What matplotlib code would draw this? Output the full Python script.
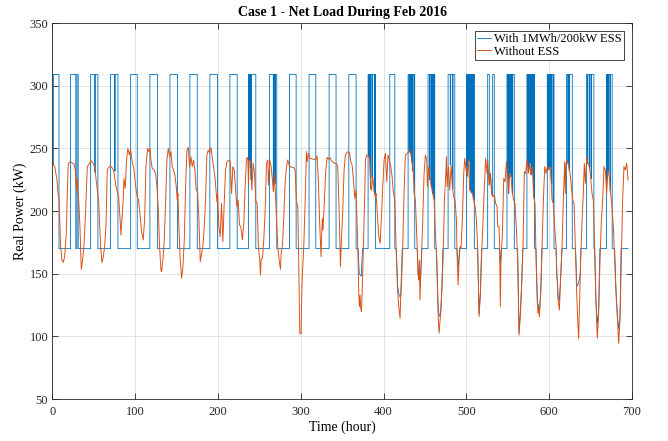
import matplotlib
matplotlib.use("Agg")
import matplotlib.pyplot as plt
import numpy as np

plt.rcParams['font.family'] = ['Liberation Serif', 'DejaVu Serif']

# Net load without storage (hour, kW)
load_hours = [
    0, 2.7, 5.6, 6.8, 8, 10, 11.6, 13.2, 14.8, 16.8, 18, 19.2, 21.2, 23.7, 26.1, 27.7, 28.5, 29.3, 30.1, 30.9,
    31.7, 33.3, 34.9, 36.5, 38.1, 40.2, 42.2, 44.6, 47, 49.4, 51, 51.8, 54.2, 55.8, 58.3, 59.9, 61.5, 63.1, 64.7, 66.3,
    67.9, 70.3, 72.7, 74.3, 76.8, 78.4, 80, 81.6, 82.8, 84, 85.6, 86.4, 88, 89.6, 91.2, 92.9, 94.5, 96.1, 98.5, 100.9,
    102.5, 104.1, 106.5, 108.1, 109.7, 111.4, 113, 115, 116.6, 117.8, 119, 120.6, 123, 124.7, 126.3, 127.9, 129.5, 131.1, 131.9, 133.5,
    135.1, 136.7, 138.3, 140, 141.6, 143.2, 144.8, 146.4, 148, 149.6, 150.8, 151.6, 152.8, 154.4, 156.1, 157.7, 159.3, 160.9, 162.5, 164.1,
    165.7, 167.3, 168.9, 170.5, 172.1, 173.7, 175.4, 177, 178.6, 180.2, 181.8, 183.4, 185, 186.6, 188.2, 189.8, 191.4, 193, 194.7, 196.3,
    197.9, 198.7, 199.5, 201.1, 202.7, 204.3, 205.9, 207.5, 209.1, 210.8, 213.2, 214.8, 216.4, 218, 219.6, 221.2, 222.8, 224.4, 226, 227.6,
    229.5, 231.2, 232.8, 234.4, 236, 236.8, 237.6, 239.3, 240.9, 242.5, 244.1, 245.7, 247.3, 248.9, 250.5, 251.3, 252.1, 253.7, 255.3, 257,
    258.6, 260.2, 261, 262.6, 264.2, 265.8, 267, 268.2, 269, 270.6, 272.2, 273.9, 275.5, 276.3, 277.9, 279.5, 281.1, 282.7, 284.3, 285.9,
    287.5, 289.2, 291.5, 293.2, 294.8, 296.4, 297.2, 298, 298.8, 300.4, 301.2, 302, 303.6, 305.2, 306.8, 307.6, 309.2, 310.9, 313.3, 315.7,
    318.1, 319.7, 321.3, 322.9, 323.7, 324.5, 325.3, 326.1, 326.9, 328.6, 330.2, 331.8, 333.4, 335, 336.6, 338.2, 341.4, 343, 344.6, 346.3,
    347.9, 349.1, 350.7, 352.3, 353.9, 356.4, 358.8, 360.4, 362, 363.6, 365.2, 366.8, 368.4, 369.2, 370, 370.8, 371.6, 372.4, 373.3, 374.1,
    375.7, 377.3, 378.1, 379.7, 381.3, 382.9, 384.5, 385.3, 386.9, 388.5, 390.1, 390.9, 392.6, 394.2, 395.8, 397.4, 399, 400.6, 402.2, 403.8,
    405.4, 407, 408.7, 410.3, 411.9, 413.5, 415.1, 416.7, 418.3, 419.9, 420.7, 421.5, 423.1, 424.7, 426.3, 428.8, 431.2, 432.8, 434.4, 436,
    437.6, 438.4, 440, 441.6, 442.4, 443.2, 444, 444.9, 445.7, 447.3, 448.9, 450.5, 452.1, 452.9, 454.5, 456.1, 457.7, 459.3, 461, 462.6,
    464.2, 465.8, 467, 468.6, 470.2, 471.8, 473.5, 475.1, 475.9, 476.7, 478.3, 479.9, 481.5, 483.1, 484.7, 486.3, 488, 488.7, 490, 491.2,
    492.4, 493.6, 495.2, 496.8, 498, 499.2, 500.8, 502.4, 504, 505.6, 507.2, 508.9, 510.5, 512.1, 513.7, 515.3, 516.9, 518.5, 520.1, 521.7,
    523.3, 524.9, 525.8, 527.4, 529, 530.6, 532.2, 533.8, 535.4, 537, 537.8, 539.4, 540.2, 541, 541.8, 543.5, 545.1, 546.7, 548.3, 549.9,
    550.7, 552.3, 553.9, 555.5, 557.1, 558.7, 560.3, 561.9, 563.6, 565.2, 566.8, 568.4, 570, 571.6, 573.2, 574.8, 576.4, 578, 579.7, 581.3,
    582.9, 584.1, 585.7, 586.5, 587.3, 588.1, 589.8, 591.4, 593, 594.6, 596.2, 597.8, 599.4, 601, 602.6, 603.4, 605, 606.6, 608.3, 609.1,
    609.9, 610.7, 612.3, 613.9, 615.5, 617.1, 618.7, 619.5, 620.3, 621.9, 623.5, 625.2, 626.8, 628.4, 630, 631.6, 633.2, 634.8, 635.6, 636.4,
    638, 639.7, 641.2, 642.4, 643.7, 645.3, 646.9, 648.5, 650.1, 651.7, 653.3, 654.9, 656.5, 658.1, 659.7, 661.4, 663, 664.6, 666.2, 667.8,
    669.4, 671, 672.6, 674.2, 675.8, 677.5, 679.1, 680.7, 682.3, 683.9, 685.5, 687.1, 688.7, 690.3, 691.9, 693.6, 695.2,
]
load_kw = [
    237.5, 236, 224.7, 214, 210, 171.6, 161, 159, 163.6, 182, 214, 238, 239.3, 238.5, 237.5, 232.7, 224.7, 216.7, 226, 214,
    210, 187.5, 153.5, 161, 171.6, 200.8, 235.4, 238, 240, 238, 235.4, 231.4, 216.7, 208.8, 171.6, 158.8, 163.6, 171.6, 188, 232.7,
    234.8, 236, 234, 231.4, 219.4, 215.4, 211.4, 195.5, 180.9, 192.8, 210, 226, 218, 240.7, 250, 244.7, 249, 240.7, 232.7, 218,
    211.4, 208.8, 192.8, 182, 176.9, 192.8, 235.4, 250, 247.3, 250, 240.7, 234, 232.7, 230, 219.4, 200.8, 171.6, 153, 151.6, 161,
    176.9, 206, 240.7, 250, 243.3, 247.3, 235.4, 232.7, 228.7, 219.4, 208.8, 214, 187.5, 161, 146.3, 155.6, 176.9, 219.4, 248.6, 250.8,
    235.4, 243.3, 235.4, 240.7, 232.7, 216.7, 215.4, 192.8, 159.6, 166.2, 171.6, 187.5, 208.8, 244.7, 248.6, 246.5, 250.8, 243.3, 235.4, 227.4,
    214, 207.4, 214, 187.5, 179.5, 206, 175.5, 206, 232.7, 239.3, 240.7, 239.3, 214, 235.4, 232.7, 218, 203.5, 208.8, 188.8, 187.5,
    177, 190, 219.4, 242, 242.8, 222, 240.7, 240.7, 216.7, 238, 230, 207.4, 206, 170.2, 161, 149, 161.5, 162.3, 176.9, 200.8,
    238, 240.7, 220.7, 240.7, 235.4, 224.7, 215.4, 228.7, 219.4, 195.5, 171.6, 161, 153.5, 166.2, 172.9, 195.5, 222, 235.4, 240.7, 236.7,
    235.4, 234.8, 234.8, 232.7, 207.4, 203.5, 171.6, 134.3, 102.4, 102, 134.3, 150.3, 171.6, 206, 247.3, 239.3, 246, 242, 241.7, 241.2,
    241.2, 243.9, 223.4, 188.8, 176.9, 163.6, 182, 194.2, 184.8, 208.8, 232.7, 242.8, 241.2, 242.8, 240.7, 239.3, 238, 238, 235.4, 200.8,
    155.6, 176.9, 200.8, 232.7, 244.7, 247.3, 246.5, 239.3, 236.7, 224.7, 210, 216.7, 182, 161, 134.3, 123.7, 133, 122.4, 119.7, 134.3,
    174.2, 214, 240.7, 244.7, 243.9, 243.3, 218, 216.7, 227.4, 215.4, 211.4, 214, 195.5, 179.5, 174.2, 195.5, 219.4, 240.7, 246, 223.4,
    244.7, 240.7, 235.4, 227.4, 214, 208.8, 171.6, 139.7, 123.7, 114.4, 131.7, 139.7, 171.6, 214, 244.7, 246, 248.6, 246, 238, 230,
    211.4, 208.8, 182, 150.3, 145, 161, 129, 150.3, 161, 192.8, 230, 244.7, 240.7, 219.4, 235.4, 224.7, 219.4, 214, 208.8, 182,
    161, 118.4, 102.4, 115.7, 134.3, 161, 208.8, 228.7, 243.3, 219.4, 235.4, 216.7, 236.7, 219.4, 211.4, 208.8, 192.8, 166.2, 141, 161,
    171.6, 170.2, 195.5, 230, 242, 235.4, 227.4, 240.7, 216.7, 215.4, 214, 208.8, 203.5, 192.8, 168.9, 115.7, 134.3, 166.2, 192.8, 219.4,
    242, 230, 240.7, 220.7, 230, 214, 211.4, 212.8, 206, 203.5, 187.5, 187.5, 171.6, 123.7, 161, 182, 226, 223.4, 239.3, 227.4,
    214, 230, 227.4, 214, 208.8, 206, 187.5, 161, 101.1, 118.4, 142.3, 171.6, 231.4, 230, 240.7, 230, 238, 228.7, 235.4, 211.4,
    206, 161, 126.4, 118.4, 123.7, 115.7, 134.3, 171.6, 208.8, 235.4, 230, 235.4, 232.7, 235.4, 222, 208.8, 206, 187.5, 171.6, 147.6,
    145, 129, 121, 147.6, 171.6, 208.8, 239.3, 214, 238, 240.7, 235.4, 230, 219.4, 208.8, 206, 171.6, 134.3, 107.8, 98.5, 118.4,
    161, 192.8, 214, 238, 222, 243.3, 238, 235.4, 227.4, 214, 208.8, 171.6, 126.4, 98.5, 118.4, 161, 192.8, 208.8, 235.4, 232.7,
    214, 232.7, 227.4, 214, 203.5, 187.5, 161, 134.3, 115.7, 94.5, 113, 161, 208.8, 235.4, 232.7, 238, 224.7,
]

# Net load with the 1 MWh / 200 kW storage unit (hour, kW)
ess_hours = [
    0, 1.2, 1.2, 8, 8, 22, 22, 28.3, 28.3, 29.7, 29.7, 31.2, 31.2,
    46.2, 46.2, 51, 51, 52, 52, 55, 55, 70.3, 70.3, 75, 75, 76, 76, 79.2, 79.2,
    94.5, 94.5, 102.5, 102.5, 117.8, 117.8, 127.1, 127.1, 142, 142, 151.2, 151.2,
    166.1, 166.1, 175, 175, 190.2, 190.2, 199.5, 199.5, 214.4, 214.4, 223.2, 223.2,
    236.8, 236.8, 237.3, 237.3, 237.7, 237.7, 238.1, 238.1, 238.5, 238.5, 238.9, 238.9, 239.3, 239.3, 239.8, 239.8, 240.2, 240.2, 245.7, 245.7,
    262.2, 262.2, 266.8, 266.8, 267.2, 267.2, 267.8, 267.8, 268.2, 268.2, 268.8, 268.8, 269.2, 269.2, 271, 271,
    286.3, 286.3, 294.4, 294.4, 310, 310, 318.1, 318.1, 334.2, 334.2, 342.6, 342.6, 358, 358, 366.8, 366.8,
    369.3, 370.6, 373, 374.6,
    381.3, 381.3, 382.3, 382.3, 382.9, 382.9, 384.1, 384.1, 384.7, 384.7, 386.1, 386.1, 386.7, 386.7, 389, 389, 389.5, 389.5, 390.1, 390.1,
    407.5, 407.5, 413.6, 413.6,
    415.3, 417, 419, 420.7, 422.5,
    429.6, 429.6, 430.8, 430.8, 431.4, 431.4, 432.4, 432.4, 433, 433, 433.6, 433.6, 434.2, 434.2, 434.8, 434.8, 435.4, 435.4, 436.8, 436.8, 437.2, 437.2, 437.6, 437.6,
    440.6, 441.8, 442.6, 443.4, 444.4, 445.5, 446,
    453.7, 453.7, 455.7, 455.7, 456.2, 456.2, 457.7, 457.7, 458.2, 458.2, 458.9, 458.9, 459.4, 459.4, 460.6, 460.6, 461.1, 461.1, 461.8, 461.8,
    463.8, 465.8, 467.2, 469, 470.5, 471.6,
    477.9, 477.9, 480.5, 480.5, 481, 481, 483.3, 483.3, 483.9, 483.9, 486, 486,
    488.6, 490, 491.3, 492,
    500.3, 500.3, 501, 501, 501.5, 501.5, 502.7, 502.7, 503.2, 503.2, 504.3, 504.3, 504.8, 504.8, 505.6, 505.6, 506.1, 506.1,
    506.8, 506.8, 507.3, 507.3, 508.4, 508.4, 508.9, 508.9, 509.6, 509.6,
    513.5, 515.3, 516.9, 518.3,
    525.7, 525.7, 527.7, 527.7, 529, 530.6, 531.7, 531.7, 533.7, 533.7,
    540.1, 541, 541.8, 542.2,
    549, 549, 549.6, 549.6, 550.1, 550.1, 550.8, 550.8, 551.3, 551.3, 552.3, 552.3, 552.8, 552.8, 553.9, 553.9, 554.4, 554.4,
    555.5, 555.5, 556, 556, 557.9, 557.9,
    561.9, 563.6, 565.2, 566.8, 568,
    573.1, 573.1, 573.8, 573.8, 574.3, 574.3, 575, 575, 575.5, 575.5, 576.4, 576.4, 576.9, 576.9, 578, 578, 578.5, 578.5,
    579.7, 579.7, 580.2, 580.2, 581.3, 581.3, 581.8, 581.8, 582.3, 582.3,
    584.1, 585.7, 587.3, 588.1, 589.8, 591.3,
    597.7, 597.7, 598.4, 598.4, 598.9, 598.9, 599.6, 599.6, 600.1, 600.1, 601, 601, 601.5, 601.5, 602.6, 602.6, 603.1, 603.1,
    604.6, 604.6, 605.1, 605.1, 605.8, 605.8,
    608.3, 609.5, 610.7, 612.3, 613.9, 615.4,
    621, 621, 622.5, 622.5, 623, 623, 624.2, 624.2, 624.7, 624.7, 627.9, 627.9,
    631.8, 633.5, 635.5, 637.5, 638.2,
    645.2, 645.2, 646.2, 646.2, 646.7, 646.7, 648.5, 648.5, 649, 649, 650.5, 650.5, 651, 651, 654, 654,
    654.9, 656.5, 658.1, 659.7, 661.2,
    669.3, 669.3, 670, 670, 670.5, 670.5, 671.6, 671.6, 672.1, 672.1, 673.5, 673.5, 674, 674, 676.1, 676.1,
    679.1, 680.7, 682.3, 683.9, 685.5, 686.8, 695.2,
]
ess_kw = [
    237, 237, 309, 309, 170, 170, 309, 309, 170, 170, 309, 309, 170,
    170, 309, 309, 231, 231, 309, 309, 170, 170, 309, 309, 232, 232, 309, 309, 170,
    170, 309, 309, 170, 170, 309, 309, 170, 170, 309, 309, 170,
    170, 309, 309, 170, 170, 309, 309, 170, 170, 309, 309, 170,
    170, 309, 309, 241, 241, 309, 309, 240, 240, 309, 309, 235, 235, 309, 309, 225, 225, 309, 309, 170,
    170, 309, 309, 216, 216, 309, 309, 228, 228, 309, 309, 222, 222, 309, 309, 170,
    170, 309, 309, 170, 170, 309, 309, 170, 170, 309, 309, 170, 170, 309, 309, 170,
    170, 150, 148, 170,
    170, 309, 309, 243, 243, 309, 309, 218, 218, 309, 309, 227, 227, 309, 309, 214, 214, 309, 309, 170,
    170, 309, 309, 170,
    170, 140, 132, 132, 170,
    170, 309, 309, 247, 247, 309, 309, 246, 246, 309, 309, 240, 240, 309, 309, 232, 232, 309, 309, 214, 214, 309, 309, 170,
    170, 150, 145, 152, 140, 160, 170,
    170, 309, 309, 225, 225, 309, 309, 219, 219, 309, 309, 214, 214, 309, 309, 210, 210, 309, 309, 170,
    170, 125, 116, 118, 140, 170,
    170, 309, 309, 237, 237, 309, 309, 218, 218, 309, 309, 170,
    170, 155, 165, 170,
    170, 309, 309, 228, 228, 309, 309, 240, 240, 309, 309, 217, 217, 309, 309, 215, 215, 309,
    309, 214, 214, 309, 309, 209, 209, 309, 309, 170,
    170, 118, 134, 170,
    170, 309, 309, 221, 230, 214, 212, 309, 309, 170,
    170, 158, 165, 170,
    170, 309, 309, 228, 228, 309, 309, 214, 214, 309, 309, 230, 230, 309, 309, 227, 227, 309,
    309, 214, 214, 309, 309, 170,
    170, 103, 118, 142, 170,
    170, 309, 309, 236, 236, 309, 309, 232, 232, 309, 309, 238, 238, 309, 309, 229, 229, 309,
    309, 235, 235, 309, 309, 211, 211, 309, 309, 170,
    170, 128, 124, 118, 136, 170,
    170, 309, 309, 233, 233, 309, 309, 233, 233, 309, 309, 235, 235, 309, 309, 222, 222, 309,
    309, 207, 207, 309, 309, 170,
    170, 147, 132, 128, 148, 170,
    170, 309, 309, 238, 238, 309, 309, 232, 232, 309, 309, 170,
    170, 140, 142, 150, 170,
    170, 309, 309, 238, 238, 309, 309, 235, 235, 309, 309, 226, 226, 309, 309, 170,
    170, 128, 110, 120, 170,
    170, 309, 309, 225, 225, 309, 309, 231, 231, 309, 309, 216, 216, 309, 309, 170,
    170, 136, 117, 106, 115, 170, 170,
]

series_labels = ['With 1MWh/200kW ESS', 'Without ESS']
x_ticks = [0, 100, 200, 300, 400, 500, 600, 700]
y_ticks = [50, 100, 150, 200, 250, 300, 350]

fig = plt.figure(figsize=(6.68, 4.41), dpi=100)
ax = fig.add_axes([0.0784, 0.0952, 0.8677, 0.8526])

ax.plot(ess_hours, ess_kw, color='#0072BD', lw=0.6, label=series_labels[0])
ax.plot(load_hours, load_kw, color='#D95319', lw=0.7, label=series_labels[1])

ax.set_xlim(0, 700)
ax.set_ylim(50, 350)
ax.set_xticks(x_ticks)
ax.set_yticks(y_ticks)
ax.grid(True, color='#dedede', lw=0.6)
ax.set_axisbelow(True)
ax.tick_params(direction='in', length=4, width=0.6, top=True, right=True,
               labelsize=9, colors='#262626')
ax.tick_params(axis='x', pad=5)
ax.tick_params(axis='y', pad=3)
for s in ax.spines.values():
    s.set_color('#262626')
    s.set_linewidth(0.6)

ax.set_title('Case 1 - Net Load During Feb 2016', fontsize=10, fontweight='bold', pad=5)
ax.set_xlabel('Time (hour)', fontsize=10, labelpad=2)
ax.set_ylabel('Real Power (kW)', fontsize=10, labelpad=2)

leg = ax.legend(loc='upper right', fontsize=9, frameon=True, fancybox=False,
                edgecolor='#262626', framealpha=1, borderpad=0.2, labelspacing=0.05,
                handlelength=1.1, handletextpad=0.25, borderaxespad=0.6)
leg.get_frame().set_linewidth(0.6)

fig.savefig('out.png', dpi=100)
